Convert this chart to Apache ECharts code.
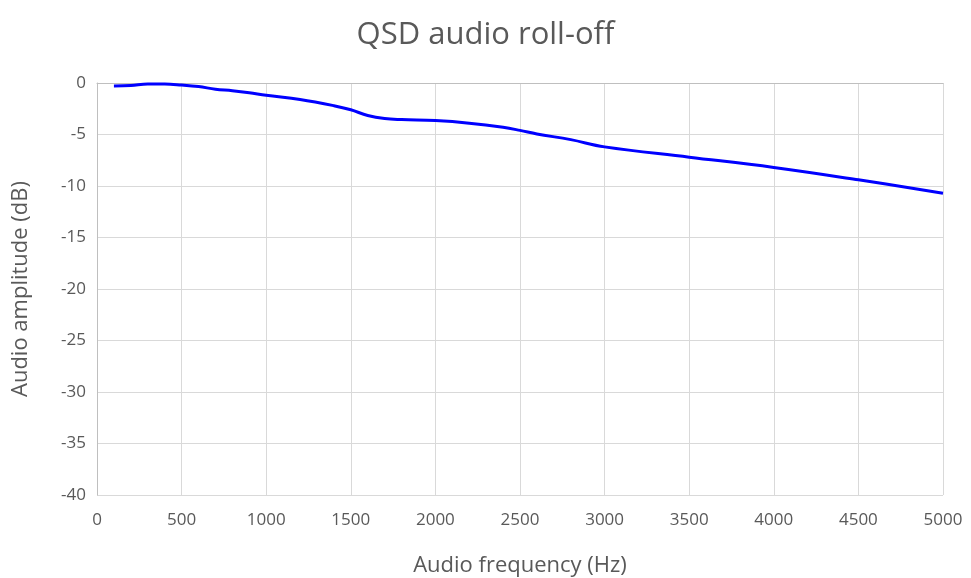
<!DOCTYPE html>
<html>
<head>
<meta charset="utf-8">
<script src="https://cdn.jsdelivr.net/npm/echarts@6/dist/echarts.min.js"></script>
<style>html,body{margin:0;padding:0;background:#fff}#c{width:971px;height:578px}</style>
</head>
<body>
<div id="c"></div>
<script>
const freqs = [100,200,300,400,500,600,700,800,900,1000,1200,1400,1500,1600,1700,1800,2000,2200,2400,2500,2600,2800,3000,3500,4000,4500,5000];
const amps  = [-0.3,-0.25,-0.1,-0.1,-0.2,-0.35,-0.6,-0.75,-0.95,-1.2,-1.6,-2.2,-2.6,-3.15,-3.45,-3.55,-3.65,-3.9,-4.3,-4.6,-4.95,-5.5,-6.2,-7.2,-8.2,-9.4,-10.7];
const xTicks = [0,500,1000,1500,2000,2500,3000,3500,4000,4500,5000];
const yTicks = [0,-5,-10,-15,-20,-25,-30,-35,-40];

const FONT = 'Open Sans';
const chart = echarts.init(document.getElementById('c'));
chart.setOption({
  animation: false,
  backgroundColor: '#fff',
  title: {
    text: 'QSD audio roll-off', left: 'center', top: 15,
    textStyle: { fontFamily: FONT, fontSize: 31, fontWeight: 'normal', color: '#595959' }
  },
  grid: { left: 97, right: 28, top: 83, bottom: 83, containLabel: false, outerBoundsMode: 'none' },
  xAxis: {
    type: 'value', min: 0, max: 5000, interval: 500,
    name: 'Audio frequency (Hz)', nameLocation: 'middle', nameGap: 60,
    nameTextStyle: { fontFamily: FONT, fontSize: 22, color: '#595959' },
    axisLine: { show: true, lineStyle: { color: '#bfbfbf' } },
    axisTick: { show: false },
    axisLabel: { fontFamily: FONT, fontSize: 17, color: '#595959', margin: 17, formatter: v => String(v) },
    splitLine: { show: true, lineStyle: { color: '#d9d9d9' } }
  },
  yAxis: {
    type: 'value', min: -40, max: 0, interval: 5,
    name: 'Audio amplitude (dB)', nameLocation: 'middle', nameGap: 65,
    nameTextStyle: { fontFamily: FONT, fontSize: 22, color: '#595959' },
    axisLine: { show: true, lineStyle: { color: '#bfbfbf' } },
    axisTick: { show: false },
    axisLabel: { fontFamily: FONT, fontSize: 17, color: '#595959', margin: 11, formatter: v => String(v) },
    splitLine: { show: true, lineStyle: { color: '#d9d9d9' } }
  },
  series: [{
    type: 'line',
    data: freqs.map((f, i) => [f, amps[i]]),
    smooth: 0.4,
    showSymbol: false,
    lineStyle: { color: '#0000ff', width: 3 }
  }]
});
</script>
</body>
</html>
